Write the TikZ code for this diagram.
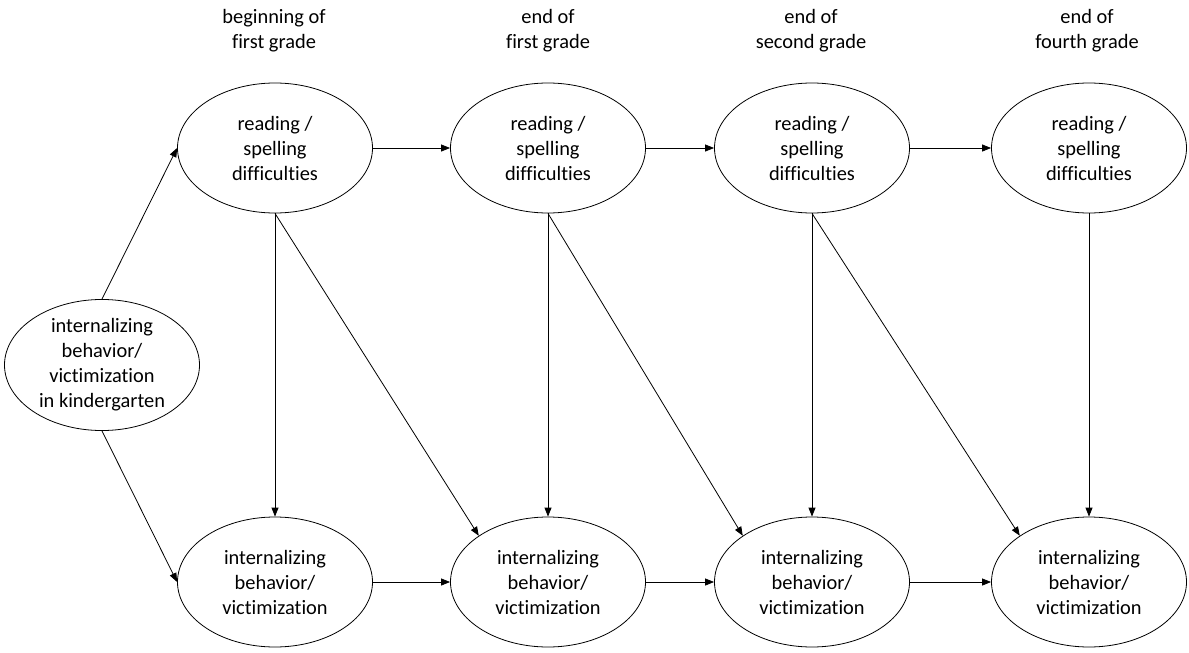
\documentclass[tikz,border=0pt]{standalone}
\usepackage{fontspec}
\setmainfont{Carlito}[Ligatures=NoCommon]
\usetikzlibrary{shapes.geometric,arrows.meta}
\begin{document}
\begin{tikzpicture}[x=1pt,y=-1pt,
  every node/.style={font=\fontsize{20.4}{25}\selectfont, align=center},
  oval/.style={draw, ellipse, line width=0.8pt, minimum width=195pt, minimum height=130pt, inner sep=0pt},
  heading/.style={inner sep=0pt},
  link/.style={line width=0.8pt, -{Triangle[length=9pt,width=7pt]}}]
\useasboundingbox (0,0) rectangle (1189,653);

% time point headings
\node[heading] (h1) at (274,31) {beginning of\\first grade};
\node[heading] (h2) at (548,31) {end of\\first grade};
\node[heading] (h3) at (811,31) {end of\\second grade};
\node[heading] (h4) at (1087,31) {end of\\fourth grade};

% kindergarten predictor
\node[oval] (k) at (102,365) {internalizing\\behavior/\\victimization\\in kindergarten};

% reading / spelling difficulties
\node[oval] (r1) at (275,148) {reading /\\spelling\\difficulties};
\node[oval] (r2) at (548,148) {reading /\\spelling\\difficulties};
\node[oval] (r3) at (812,148) {reading /\\spelling\\difficulties};
\node[oval] (r4) at (1089,148) {reading /\\spelling\\difficulties};

% internalizing behavior / victimization
\node[oval] (b1) at (275,582) {internalizing\\behavior/\\victimization};
\node[oval] (b2) at (548,582) {internalizing\\behavior/\\victimization};
\node[oval] (b3) at (812,582) {internalizing\\behavior/\\victimization};
\node[oval] (b4) at (1089,582) {internalizing\\behavior/\\victimization};

% paths from kindergarten
\draw[link] (k.north) -- (r1.west);
\draw[link] (k.south) -- (b1.west);

% stability paths
\draw[link] (r1.east) -- (r2.west);
\draw[link] (r2.east) -- (r3.west);
\draw[link] (r3.east) -- (r4.west);
\draw[link] (b1.east) -- (b2.west);
\draw[link] (b2.east) -- (b3.west);
\draw[link] (b3.east) -- (b4.west);

% concurrent paths
\draw[link] (r1.south) -- (b1.north);
\draw[link] (r2.south) -- (b2.north);
\draw[link] (r3.south) -- (b3.north);
\draw[link] (r4.south) -- (b4.north);

% cross-lagged paths
\draw[link] (r1.south) -- (b2.north west);
\draw[link] (r2.south) -- (b3.north west);
\draw[link] (r3.south) -- (b4.north west);
\end{tikzpicture}
\end{document}
